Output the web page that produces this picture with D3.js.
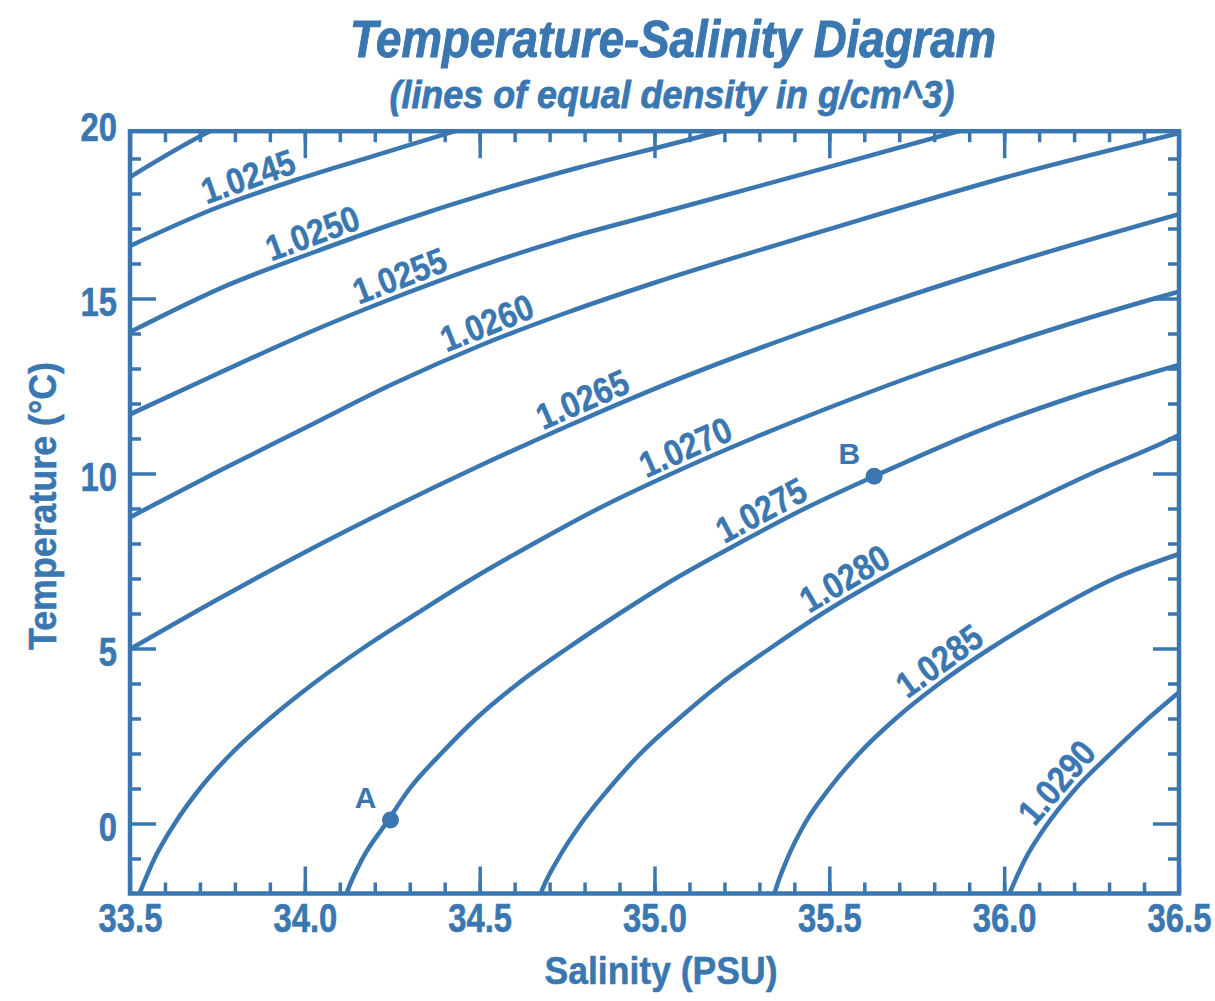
<!DOCTYPE html>
<html>
<head>
<meta charset="utf-8">
<script src="https://cdn.jsdelivr.net/npm/d3@7"></script>
<style>
  body { margin: 0; background: #fff; }
  svg text { font-family: "Liberation Sans", Arial, sans-serif; font-weight: bold; fill: #3a77b0; }
</style>
</head>
<body>
<svg id="ts" width="1215" height="1001"></svg>
<script>
var blue = "#3a77b0";

// density of each isopycnal (g/cm^3)
var densities = ["1.0240", "1.0245", "1.0250", "1.0255", "1.0260", "1.0265",
                 "1.0270", "1.0275", "1.0280", "1.0285", "1.0290"];

// isopycnals as [salinity, temperature]
var c0240 = [[33.5, 18.47], [33.723, 19.75], [33.82, 20.2]];
var c0245 = [[33.5, 16.5], [33.737, 17.55], [33.978, 18.4], [34.2, 19.08], [34.429, 19.78], [34.53, 20.08]];
var c0250 = [[33.5, 14.04], [33.786, 15.41], [34.02, 16.3], [34.272, 17.2], [34.549, 18.08], [34.787, 18.75], [35.016, 19.33], [35.17, 19.72], [35.3, 20.05]];
var c0255 = [[33.5, 11.69], [33.75, 12.85], [34.0, 13.98], [34.25, 15.0], [34.5, 15.92], [34.75, 16.72], [35.0, 17.4], [35.5, 18.76], [35.84, 19.7], [36.0, 20.15]];
var c0260 = [[33.5, 8.75], [33.75, 10.05], [34.0, 11.3], [34.25, 12.55], [34.5, 13.65], [34.75, 14.6], [35.0, 15.45], [35.5, 16.98], [36.0, 18.45], [36.5, 19.72]];
var c0265 = [[33.5, 4.98], [33.75, 6.4], [34.0, 7.75], [34.25, 9.02], [34.5, 10.22], [34.75, 11.35], [35.0, 12.42], [35.5, 14.3], [36.0, 15.95], [36.5, 17.41]];
var c0270 = [[33.515, -2.3], [33.527, -2], [33.57, -1], [33.628, 0], [33.7, 1], [33.79, 2], [33.9, 3], [34.025, 4], [34.165, 5], [34.32, 6], [34.48, 7],
             [34.655, 8], [34.84, 9], [35.05, 10], [35.28, 11], [35.53, 12], [35.8, 13], [36.1, 14], [36.43, 15], [36.52, 15.25]];
var c0275 = [[34.11, -2.3], [34.121, -1.96], [34.165, -1], [34.232, 0], [34.3, 1], [34.39, 2], [34.49, 3], [34.61, 4], [34.75, 5], [34.9, 6],
             [35.06, 7], [35.24, 8], [35.43, 9], [35.628, 9.92], [35.94, 11.27], [36.2, 12.2], [36.5, 13.1]];
var c0280 = [[34.665, -2.3], [34.675, -2], [34.725, -1], [34.79, 0], [34.87, 1], [34.96, 2], [35.07, 3], [35.19, 4], [35.33, 5], [35.48, 6],
             [35.65, 7], [35.84, 8], [36.04, 9], [36.25, 10], [36.48, 11], [36.5, 11.1]];
var c0285 = [[35.335, -2.3], [35.343, -2], [35.38, -1], [35.43, 0], [35.5, 1], [35.585, 2], [35.69, 3], [35.815, 4], [35.96, 5], [36.125, 6],
             [36.315, 7], [36.5, 7.7]];
var c0290 = [[36.003, -2.3], [36.017, -1.96], [36.06, -1.02], [36.117, -0.11], [36.203, 0.98], [36.303, 1.98], [36.403, 2.92], [36.5, 3.75]];
var curves = [c0240, c0245, c0250, c0255, c0260, c0265, c0270, c0275, c0280, c0285, c0290];

// salinity where each curve carries its label (first curve is unlabelled)
var labelSalinity = [null, 33.855, 34.04, 34.29, 34.54, 34.815, 35.11, 35.33, 35.57, 35.845, 36.19];

// the two marked water samples
var samples = [{ name: "A", s: 34.245, t: 0.1 }, { name: "B", s: 35.628, t: 9.92 }];

var salinityLabels = [33.5, 34.0, 34.5, 35.0, 35.5, 36.0, 36.5];
var salinityMinor = d3.range(336, 365).map(d => d / 10);
var tempLabels = [0, 5, 10, 15, 20];
var tempMinor = [-1, 1, 2, 3, 4, 6, 7, 8, 9, 11, 12, 13, 14, 16, 17, 18, 19];
var frameTop = 19.78;   // the box closes a little under 20

var svg = d3.select("#ts");

var x = d3.scaleLinear().domain([33.5, 36.5]).range([130, 1179]);
var y = d3.scaleLinear().domain([-2, 20]).range([893.5, 123.5]);

var plotBottom = y(-2), plotTop = y(frameTop), plotLeft = x(33.5), plotRight = x(36.5);

function condense(sel, f) {
  sel.each(function () {
    var w = this.getComputedTextLength();
    d3.select(this).attr("textLength", w * f).attr("lengthAdjust", "spacingAndGlyphs");
  });
}

// titles
svg.append("text")
  .attr("x", 673).attr("y", 57)
  .attr("text-anchor", "middle")
  .style("font-size", "51px").style("font-style", "italic")
  .attr("stroke", blue).attr("stroke-width", 1)
  .text("Temperature-Salinity Diagram")
  .attr("textLength", 646).attr("lengthAdjust", "spacingAndGlyphs");

svg.append("text")
  .attr("x", 672).attr("y", 108)
  .attr("text-anchor", "middle")
  .style("font-size", "38px").style("font-style", "italic")
  .attr("stroke", blue).attr("stroke-width", 0.8)
  .text("(lines of equal density in g/cm^3)")
  .attr("textLength", 565).attr("lengthAdjust", "spacingAndGlyphs");

// clip for the isopycnals
svg.append("clipPath").attr("id", "plot-clip")
  .append("rect")
  .attr("x", plotLeft).attr("y", plotTop)
  .attr("width", plotRight - plotLeft).attr("height", plotBottom - plotTop);

var line = d3.line()
  .x(d => x(d[0]))
  .y(d => y(d[1]))
  .curve(d3.curveMonotoneX);

var paths = svg.append("g")
  .attr("clip-path", "url(#plot-clip)")
  .selectAll("path")
  .data(curves)
  .join("path")
  .attr("d", line)
  .attr("fill", "none")
  .attr("stroke", blue)
  .attr("stroke-width", 4.5)
  .attr("stroke-linejoin", "round");

// labels sit on top of their curve, turned to follow it
paths.each(function (d, i) {
  var s = labelSalinity[i];
  if (s == null) return;
  var node = this, total = node.getTotalLength(), tx = x(s);
  var lo = 0, hi = total;
  for (var k = 0; k < 40; k++) {
    var mid = (lo + hi) / 2;
    if (node.getPointAtLength(mid).x < tx) lo = mid; else hi = mid;
  }
  var L = (lo + hi) / 2;
  var p = node.getPointAtLength(L),
      p1 = node.getPointAtLength(Math.max(0, L - 20)),
      p2 = node.getPointAtLength(Math.min(total, L + 20));
  var ang = Math.atan2(p2.y - p1.y, p2.x - p1.x) * 180 / Math.PI;
  var t = svg.append("text")
    .attr("transform", "translate(" + p.x + "," + p.y + ") rotate(" + ang + ")")
    .attr("y", -6)
    .attr("text-anchor", "middle")
    .style("font-size", "36px")
    .attr("stroke", blue).attr("stroke-width", 0.5)
    .text(densities[i]);
  condense(t, 0.88);
});

// sample points
svg.selectAll("circle.sample")
  .data(samples)
  .join("circle")
  .attr("class", "sample")
  .attr("cx", d => x(d.s)).attr("cy", d => y(d.t))
  .attr("r", 8.5)
  .attr("fill", blue);

svg.selectAll("text.sample")
  .data(samples)
  .join("text")
  .attr("class", "sample")
  .attr("x", d => x(d.s) - 14).attr("y", d => y(d.t) - 12)
  .attr("text-anchor", "end")
  .style("font-size", "30px")
  .text(d => d.name);

// axes: major and minor ticks on all four sides, pointing inwards
function styleAxis(g) {
  g.select(".domain").remove();
  g.selectAll(".tick line").attr("stroke", blue).attr("stroke-width", 3.5);
}

svg.append("g").attr("transform", "translate(0," + plotBottom + ")")
  .call(d3.axisBottom(x).tickValues(salinityMinor).tickSize(-11).tickFormat(""))
  .call(styleAxis);
var xAxis = svg.append("g").attr("transform", "translate(0," + plotBottom + ")")
  .call(d3.axisBottom(x).tickValues(salinityLabels).tickSize(-27).tickPadding(10).tickFormat(d3.format(".1f")))
  .call(styleAxis);
// narrow the tick numbers horizontally, as in the condensed face of the original
xAxis.selectAll("text").attr("fill", blue).attr("stroke", blue).attr("stroke-width", 0.6)
  .attr("transform", "scale(0.82,1)")
  .style("font-size", "40px");

svg.append("g").attr("transform", "translate(0," + plotTop + ")")
  .call(d3.axisTop(x).tickValues(salinityMinor).tickSize(-11).tickFormat(""))
  .call(styleAxis);
svg.append("g").attr("transform", "translate(0," + plotTop + ")")
  .call(d3.axisTop(x).tickValues(salinityLabels).tickSize(-27).tickFormat(""))
  .call(styleAxis);

svg.append("g").attr("transform", "translate(" + plotLeft + ",0)")
  .call(d3.axisLeft(y).tickValues(tempMinor).tickSize(-11).tickFormat(""))
  .call(styleAxis);
var yAxis = svg.append("g").attr("transform", "translate(" + plotLeft + ",0)")
  .call(d3.axisLeft(y).tickValues(tempLabels).tickSize(-26).tickPadding(16))
  .call(styleAxis);
yAxis.selectAll(".tick").filter(d => d > frameTop).select("line").remove();
yAxis.selectAll("text").attr("fill", blue).attr("stroke", blue).attr("stroke-width", 0.6)
  .attr("transform", "scale(0.82,1)")
  .attr("dy", "0.42em").style("font-size", "40px");

svg.append("g").attr("transform", "translate(" + plotRight + ",0)")
  .call(d3.axisRight(y).tickValues(tempMinor).tickSize(-11).tickFormat(""))
  .call(styleAxis);
svg.append("g").attr("transform", "translate(" + plotRight + ",0)")
  .call(d3.axisRight(y).tickValues(tempLabels.filter(d => d < frameTop)).tickSize(-26).tickFormat(""))
  .call(styleAxis);

// frame
svg.append("rect")
  .attr("x", plotLeft).attr("y", plotTop)
  .attr("width", plotRight - plotLeft).attr("height", plotBottom - plotTop)
  .attr("fill", "none").attr("stroke", blue).attr("stroke-width", 4.5);

// axis titles
svg.append("text")
  .attr("x", 661).attr("y", 984)
  .attr("text-anchor", "middle")
  .style("font-size", "38px")
  .attr("stroke", blue).attr("stroke-width", 0.5)
  .text("Salinity (PSU)")
  .attr("textLength", 233).attr("lengthAdjust", "spacingAndGlyphs");

svg.append("text")
  .attr("transform", "translate(56,506) rotate(-90)")
  .attr("text-anchor", "middle")
  .style("font-size", "38px")
  .attr("stroke", blue).attr("stroke-width", 0.5)
  .text("Temperature (°C)")
  .attr("textLength", 288).attr("lengthAdjust", "spacingAndGlyphs");
</script>
</body>
</html>
